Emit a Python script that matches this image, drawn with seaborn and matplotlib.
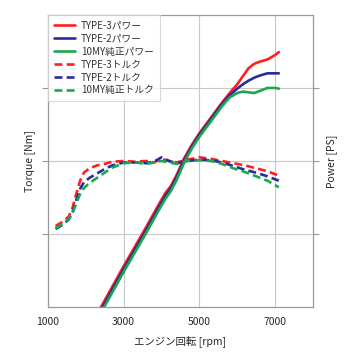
import numpy as np
import pandas as pd
import seaborn as sns
import matplotlib.pyplot as plt

# power curves (solid), y in grid units (4 divisions)
pw_rpm = [2300, 2400, 2700, 3000, 3300, 3600, 3900, 4100, 4250, 4400, 4600, 4800,
          5000, 5200, 5400, 5600, 5800, 6000, 6150, 6300, 6450, 6600, 6800, 7000, 7100]
pw_type3 = [-0.1, 0.0, 0.28, 0.56, 0.83, 1.1, 1.38, 1.56, 1.66, 1.81, 2.04, 2.22,
            2.38, 2.52, 2.66, 2.8, 2.93, 3.05, 3.16, 3.27, 3.33, 3.36, 3.39, 3.45, 3.49]
pw_type2 = [-0.14, -0.04, 0.24, 0.52, 0.79, 1.06, 1.34, 1.52, 1.63, 1.78, 2.01, 2.2,
            2.36, 2.5, 2.64, 2.78, 2.9, 2.99, 3.05, 3.1, 3.14, 3.17, 3.2, 3.2, 3.2]
pw_10my = [-0.18, -0.08, 0.2, 0.48, 0.75, 1.02, 1.3, 1.48, 1.59, 1.74, 1.98, 2.17,
           2.33, 2.47, 2.61, 2.75, 2.87, 2.93, 2.95, 2.94, 2.93, 2.96, 3.0, 3.0, 2.99]

# torque curves (dashed)
tq_rpm = [1200, 1400, 1550, 1650, 1750, 1850, 1950, 2100, 2300, 2500, 2700, 3000,
          3300, 3600, 3800, 4000, 4200, 4400, 4700, 5000, 5300, 5600, 5900, 6200,
          6500, 6800, 7100]
tq_type3 = [1.11, 1.17, 1.24, 1.36, 1.55, 1.73, 1.84, 1.9, 1.94, 1.96, 1.99, 2.0,
            1.99, 2.0, 1.98, 2.03, 2.0, 1.98, 2.02, 2.05, 2.03, 2.0, 1.97, 1.94,
            1.9, 1.86, 1.8]
tq_type2 = [1.07, 1.13, 1.2, 1.3, 1.47, 1.62, 1.71, 1.77, 1.83, 1.89, 1.94, 1.98,
            1.98, 1.97, 1.99, 2.05, 2.0, 1.97, 2.0, 2.02, 2.01, 1.98, 1.93, 1.88,
            1.84, 1.79, 1.73]
tq_10my = [1.08, 1.14, 1.21, 1.29, 1.42, 1.55, 1.63, 1.7, 1.77, 1.84, 1.91, 1.97,
           1.98, 1.96, 1.98, 2.0, 1.98, 1.96, 2.0, 2.01, 2.0, 1.96, 1.9, 1.85,
           1.79, 1.73, 1.64]

labels = ['TYPE-3パワー', 'TYPE-2パワー', '10MY純正パワー',
          'TYPE-3トルク', 'TYPE-2トルク', '10MY純正トルク']
colors = ['#ff1f1f', '#2b2b9c', '#1aa84c', '#ff1f1f', '#2b2b9c', '#1aa84c']

sns.set_style('white')
plt.rcParams['font.family'] = ['Noto Sans CJK JP', 'DejaVu Sans']

fig = plt.figure(figsize=(3.5, 3.63), dpi=100)
ax = fig.add_axes([0.137, 0.154, 0.757, 0.805])

series = [(pw_rpm, pw_type3), (pw_rpm, pw_type2), (pw_rpm, pw_10my),
          (tq_rpm, tq_type3), (tq_rpm, tq_type2), (tq_rpm, tq_10my)]
for i, ((x, y), lab, c) in enumerate(zip(series, labels, colors)):
    if i < 3:
        sns.lineplot(x=x, y=y, ax=ax, color=c, lw=1.9, label=lab)
    else:
        sns.lineplot(x=x, y=y, ax=ax, color=c, lw=1.9, label=lab,
                     dashes=False, linestyle=(0, (3, 1.6)))

ax.set_xlim(1000, 8000)
ax.set_ylim(0, 4)
ax.set_xticks([1000, 3000, 5000, 7000])
ax.set_yticks([1, 2, 3])
ax.set_yticklabels([])
ax.grid(True, color='#c8c8c8', lw=0.8)
for s in ax.spines.values():
    s.set_color('#9a9a9a')
    s.set_linewidth(0.9)
ax.tick_params(axis='x', length=0, labelsize=7.5, pad=7)
ax.tick_params(axis='y', length=4, color='#9a9a9a', direction='out', left=True)
ax.set_xlabel('エンジン回転 [rpm]', fontsize=7.5, labelpad=6)
ax.set_ylabel('Torque [Nm]', fontsize=7.5, labelpad=2)

ax2 = ax.twinx()
ax2.set_ylim(0, 4)
ax2.set_yticks([1, 2, 3])
ax2.set_yticklabels([])
ax2.tick_params(axis='y', length=4, color='#9a9a9a', direction='out')
for s in ax2.spines.values():
    s.set_visible(False)
ax2.set_ylabel('Power [PS]', fontsize=7.5, labelpad=2)

leg = ax.legend(loc='upper left', fontsize=7, frameon=True, fancybox=False,
                edgecolor='#d0d0d0', handlelength=2.2, handletextpad=0.6,
                borderaxespad=0.0, labelspacing=0.3, borderpad=0.6)
leg.get_frame().set_linewidth(0.8)
for t in leg.get_texts():
    t.set_color('#333333')

fig.savefig('out.png', dpi=100)
